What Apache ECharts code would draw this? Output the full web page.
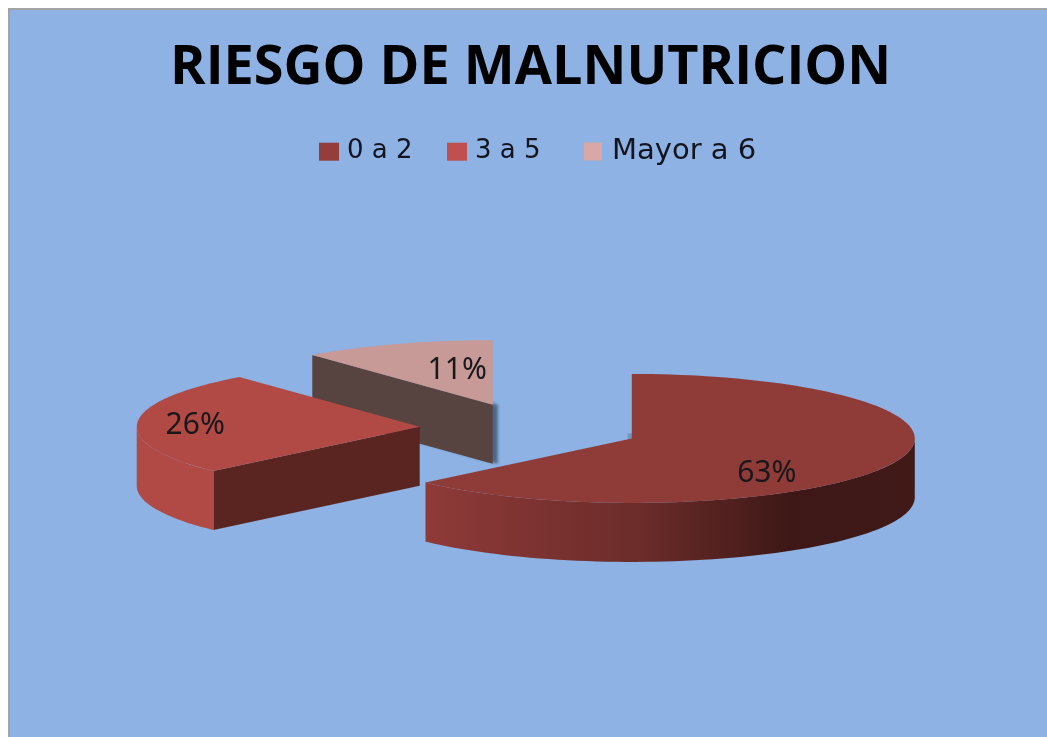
<!DOCTYPE html>
<html>
<head>
<meta charset="utf-8">
<title>Riesgo de malnutricion</title>
<script src="https://cdn.jsdelivr.net/npm/echarts@6/dist/echarts.min.js"></script>
<style>
html, body { margin: 0; padding: 0; background: #fff; }
#main { width: 1047px; height: 737px; }
</style>
</head>
<body>
<div id="main"></div>
<script>
var categories = ['0 a 2', '3 a 5', 'Mayor a 6'];
var values = [63, 26, 11];

// colores de cada porcion
var legendColors = ['#953d3b', '#c0504d', '#d9a8a6'];
var topColors = ['#8f3b38', '#b14a45', '#c79a97'];
var cutColors = ['#5a2421', '#5a2421', '#57433f'];
var legendLefts = [319, 447, 584];
var legendMarks = [20, 20, 18];
var legendFonts = [26, 26, 29];
var labelShift = [[135, 35], [-224.5, -1], [-35.5, -34]];

// geometria del pastel 3D
var cx = 530.2, cy = 428.4, rx = 283, ry = 64.5, depth = 59, explode = 110.7;

var total = values.reduce(function (a, b) { return a + b; }, 0);

function arcPoint(c, deg, dy) {
    var r = deg * Math.PI / 180;
    return [c[0] + rx * Math.sin(r), c[1] - ry * Math.cos(r) + (dy || 0)];
}

function arcPoints(c, from, to, dy) {
    var pts = [], n = Math.max(2, Math.ceil((to - from) / 2));
    for (var i = 0; i <= n; i++) {
        pts.push(arcPoint(c, from + (to - from) * i / n, dy));
    }
    return pts;
}

function wallFill(i) {
    if (i === 0) {
        return new echarts.graphic.LinearGradient(0, 0, 1, 0, [
            { offset: 0, color: '#8e3a38' },
            { offset: 0.44, color: '#6b2c2a' },
            { offset: 0.75, color: '#3d1816' },
            { offset: 1, color: '#411a18' }
        ]);
    }
    return topColors[i];
}

function renderSlice(params, api) {
    var i = params.seriesIndex;
    var before = values.slice(0, i).reduce(function (a, b) { return a + b; }, 0);
    var a0 = before / total * 360;
    var a1 = a0 + api.value(0) / total * 360;
    var mid = (a0 + a1) / 2 * Math.PI / 180;
    var c = [cx + explode * Math.sin(mid), cy - explode * Math.cos(mid) * ry / rx];
    var kids = [];

    // la sombrita junto al vertice de la porcion grande
    if (i === 0) {
        kids.push({
            type: 'rect',
            shape: { x: c[0] - 4, y: c[1] - 5, width: 5, height: 6 },
            style: { fill: '#6f94bd' }
        });
    }

    // cara de corte inicial
    if (Math.sin(a0 * Math.PI / 180) < -0.01) {
        var p = arcPoint(c, a0);
        kids.push({
            type: 'polygon',
            shape: { points: [c, p, [p[0], p[1] + depth], [c[0], c[1] + depth]] },
            style: i === 2
                ? { fill: cutColors[i], shadowColor: 'rgba(50,70,95,0.7)', shadowOffsetX: 5, shadowBlur: 3 }
                : { fill: cutColors[i] }
        });
    }

    // pared exterior visible
    var w0 = Math.max(a0, 90), w1 = Math.min(a1, 270);
    if (w1 > w0) {
        var wall = arcPoints(c, w0, w1, 0).concat(arcPoints(c, w0, w1, depth).reverse());
        kids.push({ type: 'polygon', shape: { points: wall }, style: { fill: wallFill(i) } });
    }

    // cara superior
    kids.push({
        type: 'polygon',
        shape: { points: [c].concat(arcPoints(c, a0, a1, 0)) },
        style: { fill: topColors[i] }
    });

    kids.push({
        type: 'text',
        style: {
            x: c[0] + labelShift[i][0],
            y: c[1] + labelShift[i][1],
            text: Math.round(api.value(0) / total * 100) + '%',
            fill: '#17171c',
            font: '30px "Noto Sans"',
            align: 'center',
            verticalAlign: 'middle'
        }
    });
    return { type: 'group', children: kids };
}

var myChart = echarts.init(document.getElementById('main'), null, { renderer: 'canvas' });
var option = {
    animation: false,
    backgroundColor: '#fff',
    title: {
        text: 'RIESGO DE MALNUTRICION',
        left: 170,
        top: 42,
        padding: 0,
        textStyle: { color: '#000', fontSize: 54, fontWeight: 'bold', fontFamily: '"Open Sans"' }
    },
    legend: categories.map(function (name, i) {
        return {
            data: [name],
            left: legendLefts[i],
            top: 153 - legendFonts[i] * 0.55,
            padding: 0,
            icon: 'rect',
            itemWidth: legendMarks[i],
            itemHeight: 18,
            selectedMode: false,
            textStyle: { color: '#14141e', fontSize: legendFonts[i], fontFamily: '"DejaVu Sans"', padding: [0, 0, 0, i === 2 ? 5 : 3] }
        };
    }),
    graphic: [{
        type: 'rect',
        z: -10,
        shape: { x: 9, y: 9, width: 1100, height: 800 },
        style: { fill: '#8db2e3', stroke: '#a3a3a3', lineWidth: 2 }
    }],
    series: categories.map(function (name, i) {
        return {
            name: name,
            type: 'custom',
            coordinateSystem: 'none',
            z: 5 - i,
            itemStyle: { color: legendColors[i] },
            renderItem: renderSlice,
            data: [values[i]]
        };
    })
};
myChart.setOption(option);
</script>
</body>
</html>
